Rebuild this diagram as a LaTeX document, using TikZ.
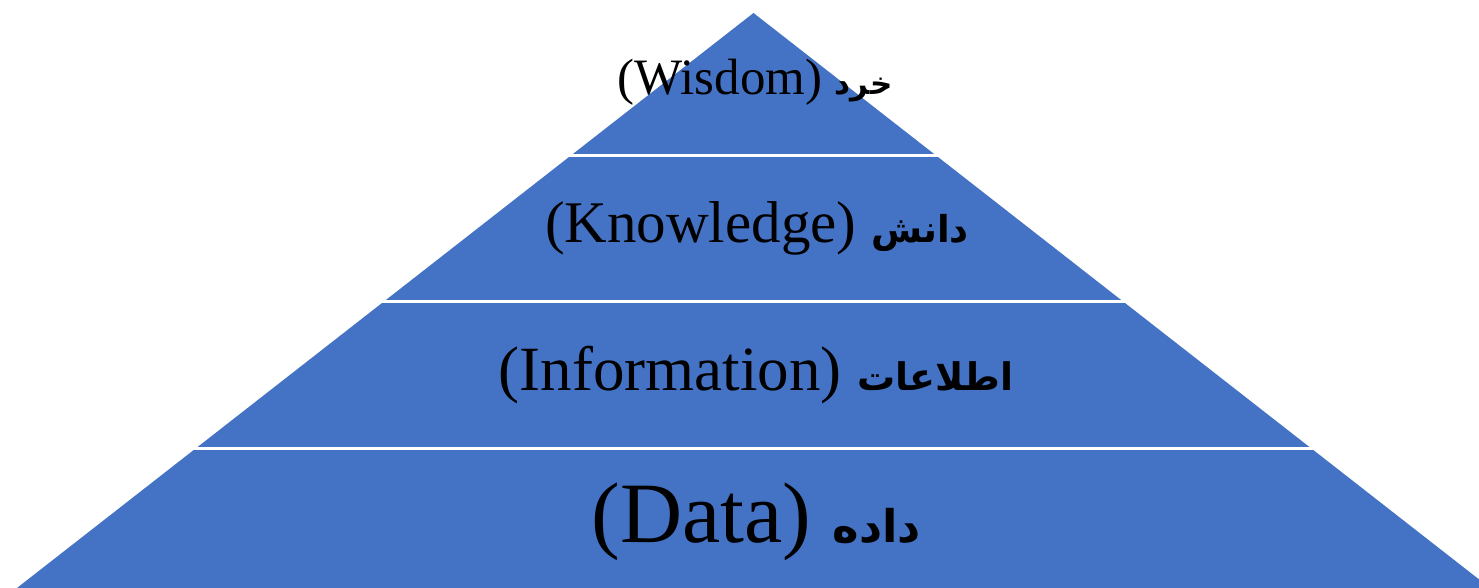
\documentclass[tikz,border=0pt]{standalone}
\usepackage{fontspec}
\setmainfont{Liberation Serif}
\newfontfamily\arabicfont[Script=Arabic]{DejaVu Sans}
\TeXXeTstate=1
\definecolor{pyrblue}{HTML}{4472C4}

\begin{document}
\begin{tikzpicture}[x=1pt, y=1pt,
  band/.style = {fill=pyrblue},
  sep/.style = {draw=white, line width=3pt},
  txt/.style = {anchor=base, inner sep=0pt, text=black}]
\useasboundingbox (0,0) rectangle (1479,587);
\clip (0,0) rectangle (1479,587);
% pyramid and the lines between its layers
\fill[band] (753.5,574) -- (8,-8) -- (1499,-8) -- cycle;
\foreach \y in {431.5,285.5,139}
  \draw[sep] (0,\y) -- (1479,\y);
% layer texts
\node[txt] (wisdom) at (755,492) {\fontsize{51}{54}\selectfont (Wisdom) {\arabicfont\bfseries\fontsize{31}{33}\selectfont\beginR خرد\endR}};
\node[txt] (knowledge) at (757,344) {\fontsize{59}{62}\selectfont (Knowledge) {\arabicfont\bfseries\fontsize{37}{39}\selectfont\beginR دانش\endR}};
\node[txt] (information) at (756,197) {\fontsize{63}{66}\selectfont (Information) {\arabicfont\bfseries\fontsize{38}{40}\selectfont\beginR اطلاعات\endR}};
\node[txt] (data) at (756,45) {\fontsize{86}{90}\selectfont (Data) {\arabicfont\bfseries\fontsize{45}{47}\selectfont\beginR داده\endR}};
\end{tikzpicture}
\end{document}
